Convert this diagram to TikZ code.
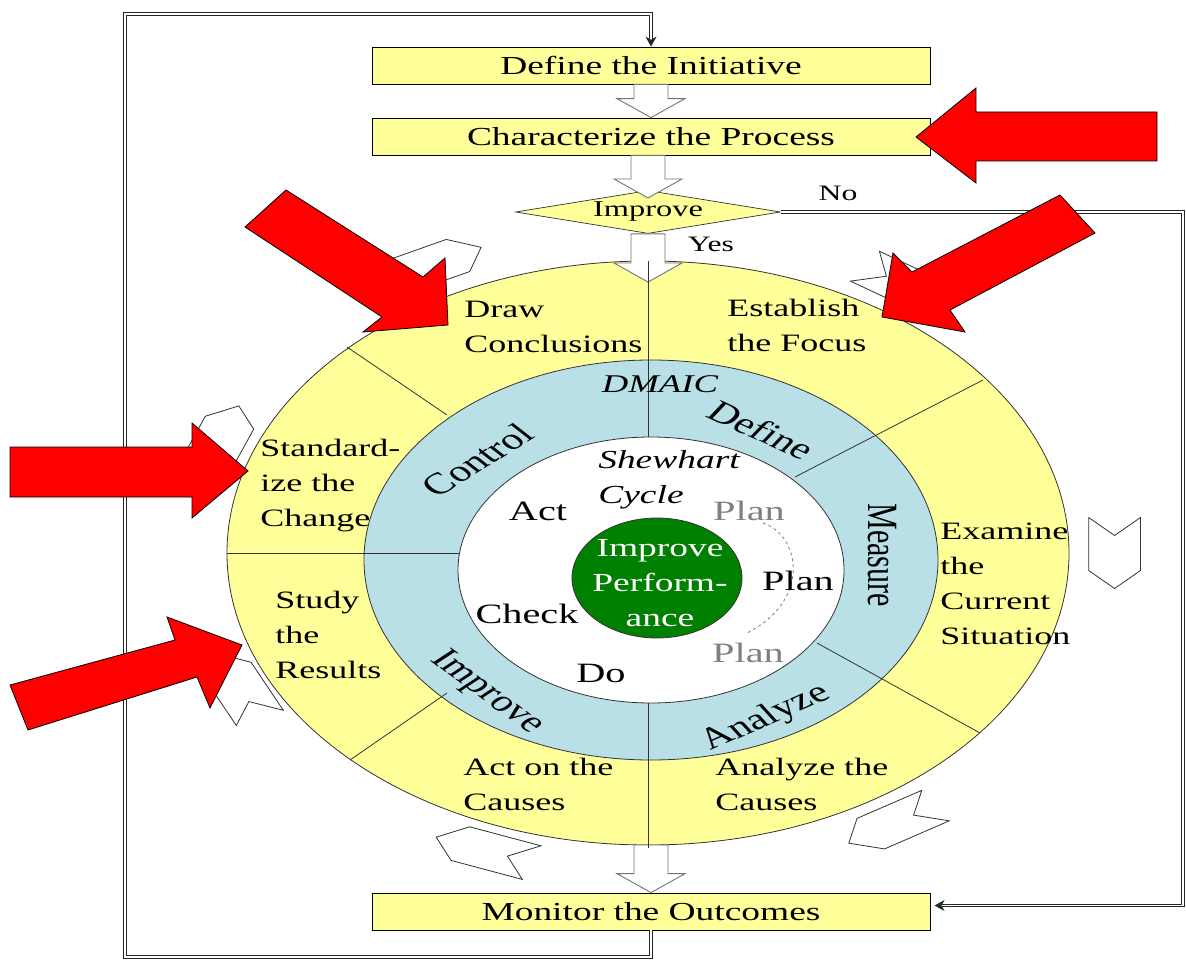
\documentclass[tikz,border=0pt]{standalone}
\usepackage{fontspec}
\setmainfont{Liberation Serif}
\usetikzlibrary{shapes.geometric,arrows.meta,calc}

\definecolor{paleyellow}{RGB}{255,255,153}
\definecolor{ringblue}{RGB}{184,224,230}
\definecolor{leafgreen}{RGB}{0,128,0}

\tikzset{
  wide/.style={xscale=1.44, inner sep=0pt},
  stepbox/.style={wide, draw=black, line width=0.8pt, fill=paleyellow, minimum width=387.5pt, minimum height=37pt, font=\fontsize{26}{30}\selectfont},
  decision/.style={wide, diamond, draw=black!80, line width=0.7pt, fill=paleyellow, minimum width=184pt, minimum height=43pt, aspect=4.3, font=\fontsize{22.5}{26}\selectfont},
  sector/.style={wide, anchor=north west, align=left, font=\fontsize{25}{35}\selectfont},
  phase/.style={wide, font=\fontsize{30}{36}\selectfont},
  pdca/.style={wide, anchor=base, font=\fontsize{28}{34}\selectfont},
  feedback/.style={draw=black!85, line width=0.8pt, double=white, double distance=1.6pt},
  hollow/.style={draw=black!55, fill=white, line width=0.9pt, line join=miter},
  redarrow/.style={draw=black, fill=red, line width=0.8pt, line join=miter},
  chevron/.style={draw=black!80, fill=white, line width=0.8pt, line join=miter},
  ring/.style={draw=black!80, line width=0.8pt},
  divider/.style={draw=black!80, line width=0.8pt}
}

\newcommand{\blockarrow}[2]{%
  \draw[hollow] let \p1=(#1), \p2=(#2) in
    (\x2,\y2) -- (\x2-34pt,\y2+19pt) -- (\x2-17pt,\y2+19pt) -- (\x2-17pt,\y1)
    -- (\x2+17pt,\y1) -- (\x2+17pt,\y2+19pt) -- (\x2+34pt,\y2+19pt) -- cycle;}

\begin{document}
\begin{tikzpicture}[x=1pt, y=-1pt]

\useasboundingbox (0,0) rectangle (1186,963);

\node[stepbox] (initiative) at (651,65.5) {Define the Initiative};
\node[stepbox] (process) at (651,136.5) {Characterize the Process};
\node[decision] (decide) at (648,212) {Improve};
\node[stepbox] (monitor) at (651,911.5) {Monitor the Outcomes};

\node[wide, anchor=base, font=\fontsize{22}{26}\selectfont] (no) at (838,200) {No};
\node[wide, anchor=base, font=\fontsize{22}{26}\selectfont] (yes) at (711,251) {Yes};

\draw[feedback, -{Stealth[length=10pt, width=11pt]}] (monitor.south) |- (125,957) -- (125,14) -| (initiative.north);
\draw[feedback, -{Stealth[length=10pt, width=11pt]}, shorten >=4pt] (decide.east) -- (1183,212) |- ([yshift=6pt]monitor.east);

\filldraw[ring, fill=paleyellow] (648,553) ellipse [x radius=421, y radius=292];
\filldraw[ring, fill=ringblue] (651,560) ellipse [x radius=287, y radius=200];
\filldraw[ring, fill=white] (651,570) ellipse [x radius=193, y radius=133];

\coordinate (decidetip) at (648,198);
\coordinate (cycletop) at (648,282);
\coordinate (cyclebottom) at (648,845);

\blockarrow{initiative.south}{process.north}
\blockarrow{process.south}{decidetip}
\blockarrow{decide.south}{cycletop}
\blockarrow{cyclebottom}{monitor.north}

\draw[divider] (648,261) -- (648,437);
\draw[divider] (648,703) -- (648,848);
\draw[divider] (227,553) -- (459,553);
\draw[divider] (347,347) -- (447,415);
\draw[divider] (350,760) -- (447,693);
\draw[divider] (795,477) -- (983,380);
\draw[divider] (817,643) -- (980,733);

\filldraw[ring, fill=leafgreen] (657,578) ellipse [x radius=85, y radius=60];
\draw[dashed, gray, line width=0.8pt] (763,523) .. controls (800,535) and (812,600) .. (747,633);

\foreach \a/\r in {117/325, 56/322, 0/324, -58/320, -111/318, -155/314, 159/318}
  \draw[chevron, shift={(648,553)}, xscale=1.44, rotate=\a] (\r-18,-35.5) -- (\r,-17.5) -- (\r+18,-35.5) -- (\r+18,17.5) -- (\r,35.5) -- (\r-18,17.5) -- cycle;

\draw[redarrow] (1157,112) -- (976,112) -- (976,88) -- (916,137) -- (976,183) -- (976,161) -- (1157,161) -- cycle;
\draw[redarrow] (1060,195) -- (912,272) -- (893,253) -- (882,317) -- (965,332) -- (950,310) -- (1095,233) -- cycle;
\draw[redarrow] (286,190) -- (423,277) -- (445,258) -- (448,325) -- (363,332) -- (382,317) -- (245,227) -- cycle;
\draw[redarrow] (10,447) -- (192,447) -- (192,423) -- (248,471) -- (192,518) -- (192,497) -- (10,497) -- cycle;
\draw[redarrow] (10,685) -- (175,640) -- (167,617) -- (242,645) -- (210,708) -- (197,677) -- (28,730) -- cycle;

\node[sector] (conclude) at (464,301) {Draw\\Conclusions};
\node[sector] (focus) at (727,299) {Establish\\the Focus};
\node[sector] (examine) at (940,523) {Examine\\the\\Current\\Situation};
\node[sector] (causes) at (715,758) {Analyze the\\Causes};
\node[sector] (acton) at (463,758) {Act on the\\Causes};
\node[sector] (study) at (275,591) {Study\\the\\Results};
\node[sector] (standard) at (260,439) {Standard-\\ize the\\Change};

\node[phase, rotate=-33.5] (pdefine) at (762,430) {Define};
\node[phase, rotate=-90] (pmeasure) at (882,555) {Measure};
\node[phase, rotate=32.3] (panalyze) at (766,718) {Analyze};
\node[phase, rotate=-46.8] (pimprove) at (487,693) {Improve};
\node[phase, rotate=41.7] (pcontrol) at (477,460) {Control};

\node[wide, anchor=base, font=\itshape\fontsize{25.5}{30}\selectfont] (dmaic) at (660,392) {DMAIC};
\node[wide, anchor=base, font=\itshape\fontsize{26}{30}\selectfont] (shewhart) at (669,468) {Shewhart};
\node[wide, anchor=base, font=\itshape\fontsize{26}{30}\selectfont] (cyclename) at (641,503) {Cycle};

\node[pdca] (act) at (538,520) {Act};
\node[pdca] (check) at (527,623) {Check};
\node[pdca] (do) at (601,682) {Do};
\node[pdca] (plan) at (798,590) {Plan};
\node[pdca, text=gray] (planup) at (749,520) {Plan};
\node[pdca, text=gray] (plandown) at (748,662) {Plan};

\node[wide, align=center, text=white, font=\fontsize{26}{35}\selectfont] (goal) at (660,583) {Improve\\Perform-\\ance};

\end{tikzpicture}
\end{document}
